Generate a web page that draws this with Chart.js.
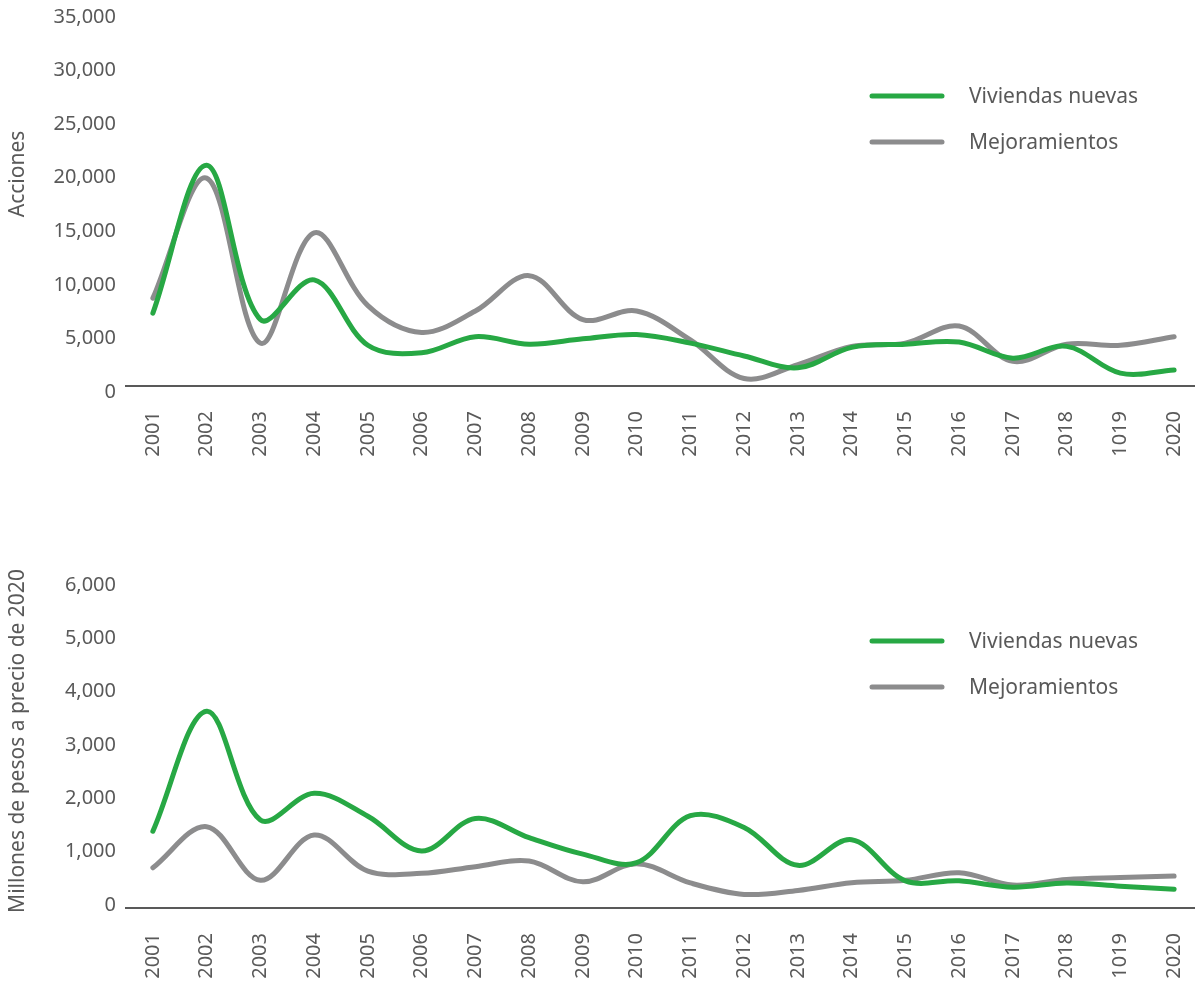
<!DOCTYPE html>
<html lang="es">
<head>
<meta charset="utf-8">
<title>Acciones y montos de vivienda 2001-2020</title>
<script src="https://cdn.jsdelivr.net/npm/chart.js@4/dist/chart.umd.min.js"></script>
<style>
  html, body { margin: 0; padding: 0; background: #fff; overflow: hidden; }
  #wrap { position: relative; width: 1195px; height: 982px; overflow: hidden; }
  canvas { position: absolute; left: 0; }
  #chartAcciones { top: 0; }
  #chartMontos { top: 490px; }
</style>
</head>
<body>
<div id="wrap">
  <canvas id="chartAcciones" width="1201" height="480"></canvas>
  <canvas id="chartMontos" width="1201" height="492"></canvas>
</div>
<script>
  const years = ['2001', '2002', '2003', '2004', '2005', '2006', '2007', '2008', '2009', '2010',
    '2011', '2012', '2013', '2014', '2015', '2016', '2017', '2018', '1019', '2020'];

  // number of actions per year
  const accionesNuevas = [6800, 20600, 6200, 9900, 3800, 3100, 4600, 3900, 4400, 4800,
    4000, 2800, 1700, 3600, 3900, 4100, 2600, 3700, 1200, 1500];
  const accionesMejoras = [8200, 19400, 4000, 14300, 7500, 5000, 7000, 10300, 6200, 7000,
    4300, 700, 2000, 3700, 4000, 5600, 2300, 3900, 3800, 4600];

  // millions of pesos (2020 prices)
  const montoNuevas = [1440, 3690, 1650, 2150, 1720, 1070, 1680, 1320, 1010, 850,
    1730, 1510, 800, 1280, 510, 510, 390, 470, 410, 350];
  const montoMejoras = [755, 1525, 520, 1370, 690, 650, 775, 880, 490, 830,
    470, 255, 330, 475, 520, 660, 430, 535, 570, 600];

  const seriesNames = ['Viviendas nuevas', 'Mejoramientos'];
  const green = '#27a844';
  const gray = '#8c8c8d';
  const textColor = '#595959';
  const fontFamily = '"Noto Sans", "Open Sans", sans-serif';

  // legend drawn at a fixed spot inside the plot
  const sideLegend = {
    id: 'sideLegend',
    afterDraw(chart, args, opts) {
      const ctx = chart.ctx;
      ctx.save();
      chart.data.datasets.forEach((ds, i) => {
        const y = opts.y + i * opts.gap;
        ctx.strokeStyle = ds.borderColor;
        ctx.lineWidth = 5;
        ctx.lineCap = 'round';
        ctx.beginPath();
        ctx.moveTo(opts.x, y);
        ctx.lineTo(opts.x + 70, y);
        ctx.stroke();
        ctx.fillStyle = textColor;
        ctx.font = `21px ${fontFamily}`;
        ctx.textBaseline = 'middle';
        ctx.textAlign = 'left';
        ctx.fillText(ds.label, opts.x + 97, y + 1);
      });
      ctx.restore();
    },
  };

  // vertical y axis title
  const sideTitle = {
    id: 'sideTitle',
    afterDraw(chart, args, opts) {
      const ctx = chart.ctx;
      ctx.save();
      ctx.translate(opts.x, opts.y);
      ctx.rotate(-Math.PI / 2);
      ctx.fillStyle = textColor;
      ctx.font = `21px ${fontFamily}`;
      ctx.textAlign = 'center';
      ctx.textBaseline = 'middle';
      ctx.fillText(opts.text, 0, 0);
      ctx.restore();
    },
  };

  function makeChart(id, nuevas, mejoras, cfg) {
    return new Chart(document.getElementById(id), {
      type: 'line',
      data: {
        labels: years,
        datasets: [
          { label: seriesNames[0], data: nuevas, borderColor: green, backgroundColor: green },
          { label: seriesNames[1], data: mejoras, borderColor: gray, backgroundColor: gray },
        ].map((ds) => ({
          ...ds,
          borderWidth: 5,
          tension: 0.35,
          pointRadius: 0,
          borderCapStyle: 'round',
          borderJoinStyle: 'round',
        })),
      },
      options: {
        responsive: false,
        animation: false,
        layout: { autoPadding: false, padding: { top: cfg.top, left: 0, right: 0, bottom: 0 } },
        scales: {
          x: {
            offset: true,
            grid: { display: false, drawTicks: false },
            border: { display: true, color: textColor, width: 2 },
            ticks: {
              color: textColor,
              font: { family: fontFamily, size: 20 },
              minRotation: 90,
              maxRotation: 90,
              padding: 25,
              autoSkip: false,
            },
            afterFit: (scale) => {
              scale.height = cfg.xHeight;
              scale.paddingLeft = 0;
              scale.paddingRight = 0;
            },
          },
          y: {
            min: 0,
            max: cfg.max,
            grid: { display: false, drawTicks: false },
            border: { display: false },
            ticks: {
              stepSize: cfg.step,
              color: textColor,
              font: { family: fontFamily, size: 20 },
              padding: 10,
              labelOffset: cfg.labelOffset,
              callback: (v) => v.toLocaleString('en-US'),
            },
            afterFit: (scale) => {
              scale.width = 126;
              scale.paddingTop = 0;
              scale.paddingBottom = 0;
            },
          },
        },
        plugins: {
          legend: { display: false },
          tooltip: { enabled: false },
          sideLegend: { x: 872, y: cfg.legendY, gap: 46 },
          sideTitle: { text: cfg.title, x: cfg.titleX, y: cfg.titleY },
        },
      },
      plugins: [sideLegend, sideTitle],
    });
  }

  makeChart('chartAcciones', accionesNuevas, accionesMejoras, {
    top: 11, xHeight: 94, max: 35000, step: 5000, labelOffset: 6,
    legendY: 96, title: 'Acciones', titleX: 18, titleY: 174,
  });

  makeChart('chartMontos', montoNuevas, montoMejoras, {
    top: 98, xHeight: 74, max: 6000, step: 1000, labelOffset: -3,
    legendY: 151, title: 'Millones de pesos a precio de 2020', titleX: 18, titleY: 251,
  });
</script>
</body>
</html>
